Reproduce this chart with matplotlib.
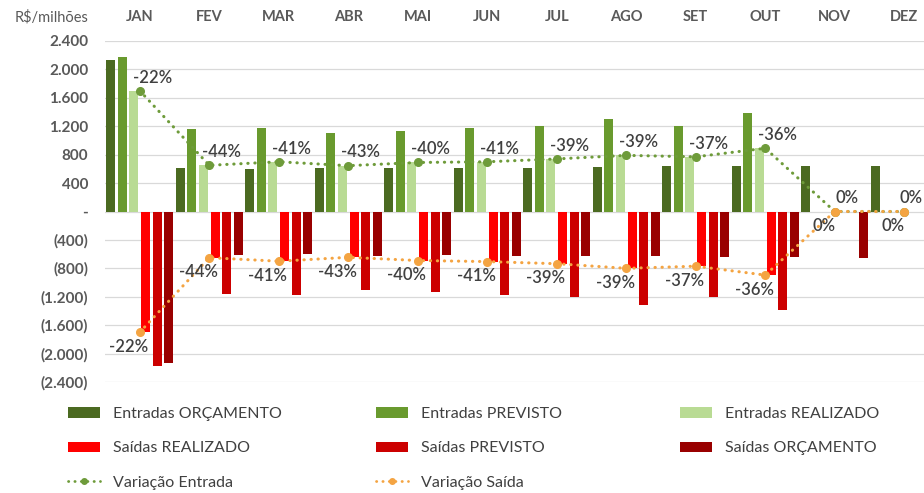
import matplotlib
matplotlib.use("Agg")
import matplotlib.pyplot as plt
import numpy as np
from matplotlib.patches import Patch
from matplotlib.lines import Line2D

plt.rcParams['font.family'] = ['Lato', 'DejaVu Sans']

months = ["JAN", "FEV", "MAR", "ABR", "MAI", "JUN", "JUL", "AGO", "SET", "OUT", "NOV", "DEZ"]
ent_orc = [2130, 610, 600, 610, 610, 610, 610, 625, 640, 640, 640, 640]
ent_prev = [2180, 1160, 1170, 1110, 1140, 1170, 1200, 1300, 1210, 1385, 0, 0]
ent_real = [1700, 650, 700, 645, 690, 700, 740, 790, 770, 890, 0, 0]
sai_real = [-1700, -650, -700, -645, -690, -705, -735, -800, -770, -895, 0, 0]
sai_prev = [-2180, -1160, -1170, -1110, -1140, -1175, -1205, -1310, -1210, -1385, 0, 0]
sai_orc = [-2130, -610, -600, -620, -610, -630, -630, -625, -640, -640, -650, -650]
var_ent = [-22, -44, -41, -43, -40, -41, -39, -39, -37, -36, 0, 0]
var_sai = [-22, -44, -41, -43, -40, -41, -39, -39, -37, -36, 0, 0]
yticks = [2400, 2000, 1600, 1200, 800, 400, 0, -400, -800, -1200, -1600, -2000, -2400]

C_EO, C_EP, C_ER = "#4B6A21", "#699A2E", "#B9DB94"
C_SR, C_SP, C_SO = "#FF0000", "#CC0000", "#990000"
C_VE, C_VS = "#6E9B3A", "#F4A442"
TXT = "#404040"
AX = "#595959"

fig = plt.figure(figsize=(9.24, 4.93), dpi=100)
ax = fig.add_axes([105 / 924, 111 / 493, 819 / 924, 341 / 493])

x = np.arange(len(months))
pitch = 0.167
w = 0.13
series = [(ent_orc, C_EO), (ent_prev, C_EP), (ent_real, C_ER),
          (sai_real, C_SR), (sai_prev, C_SP), (sai_orc, C_SO)]
for i, (vals, col) in enumerate(series):
    ax.bar(x + (i - 2.5) * pitch, vals, width=w, color=col, zorder=2)

dot = (0, (0.1, 2.2))
ax.plot(x, ent_real, color=C_VE, lw=2.2, linestyle=dot, dash_capstyle='round',
        marker='o', markersize=5.5, zorder=4, clip_on=False)
ax.plot(x, sai_real, color=C_VS, lw=2.2, linestyle=dot, dash_capstyle='round',
        marker='o', markersize=5.5, zorder=4, clip_on=False)

n = len(months)
for xi, yv, p in zip(x, ent_real, var_ent):
    dx = 4.5 if xi == n - 1 else 9
    ax.annotate(f"{p}%", (xi, yv), xytext=(dx, 9.5), textcoords='offset points',
                ha='center', va='center', fontsize=12, fontweight='semibold',
                color=TXT, zorder=5, annotation_clip=False)
for xi, yv, p in zip(x, sai_real, var_sai):
    ax.annotate(f"{p}%", (xi, yv), xytext=(-8, -10.5), textcoords='offset points',
                ha='center', va='center', fontsize=12, fontweight='semibold',
                color=TXT, zorder=5, annotation_clip=False)

ax.set_xlim(-0.5, 11.284)
ax.set_ylim(-2400, 2400)
ax.set_yticks(yticks)

def fmt(v):
    if v == 0:
        return "-"
    s = f"{abs(v):,}".replace(",", ".")
    return s if v > 0 else f"({s})"

ax.set_yticklabels([fmt(v) for v in yticks], fontsize=11, fontweight='bold', color=AX)
ax.set_xticks(x)
ax.set_xticklabels(months, fontsize=10.5, fontweight='bold', color=AX)
ax.xaxis.tick_top()
ax.tick_params(axis='x', length=0, pad=12)
ax.tick_params(axis='y', length=0, pad=12)
ax.grid(axis='y', color='#D9D9D9', lw=0.9, zorder=0)
ax.set_axisbelow(True)
for s in ax.spines.values():
    s.set_visible(False)

fig.text(88 / 924, 1 - 17 / 493, "R$/milhões", ha='right', va='center', fontsize=10.5, color=AX)

def patch(c, l):
    return Patch(facecolor=c, edgecolor='none', label=l)

cols = [
    [patch(C_EO, "Entradas ORÇAMENTO"), patch(C_SR, "Saídas REALIZADO"),
     Line2D([], [], color=C_VE, lw=2, linestyle=dot, dash_capstyle='round', marker='o', markersize=4, label="Variação Entrada")],
    [patch(C_EP, "Entradas PREVISTO"), patch(C_SP, "Saídas PREVISTO"),
     Line2D([], [], color=C_VS, lw=2, linestyle=dot, dash_capstyle='round', marker='o', markersize=4, label="Variação Saída")],
    [patch(C_ER, "Entradas REALIZADO"), patch(C_SO, "Saídas ORÇAMENTO")],
]
xs = [68, 376, 680]
for hx, hs in zip(xs, cols):
    fig.legend(handles=hs, loc='upper left', bbox_to_anchor=(hx / 924, 1 - 407 / 493),
               frameon=False, fontsize=11.5, borderpad=0, borderaxespad=0,
               handlelength=2.0, handleheight=0.65, handletextpad=0.8, labelspacing=1.28,
               labelcolor=TXT)

fig.savefig("out.png", dpi=100)
